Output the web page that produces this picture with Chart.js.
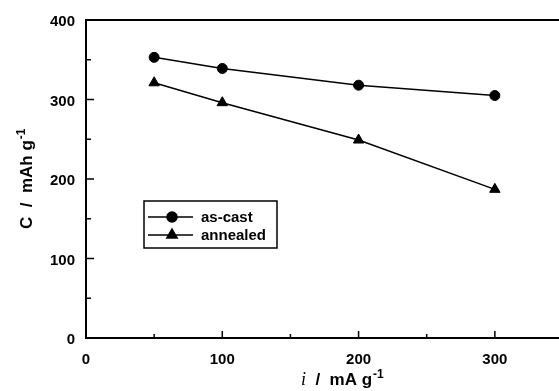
<!DOCTYPE html>
<html>
<head>
<meta charset="utf-8">
<style>
  html, body { margin: 0; padding: 0; overflow: hidden; background: #fff; }
  #capChart { display: block; }
</style>
</head>
<body>
<canvas id="capChart" width="570" height="391"></canvas>
<script src="https://cdn.jsdelivr.net/npm/chart.js"></script>
<script>
  // current density (mA/g) and discharge capacity (mAh/g)
  const currents = [50, 100, 200, 300];
  const asCast = [353, 339, 318, 305];
  const annealed = [321, 296, 249, 187];

  const xTicks = [0, 100, 200, 300];
  const xMinor = [50, 150, 250];
  const yTicks = [0, 100, 200, 300, 400];
  const yMinor = [50, 150, 250, 350];

  (() => {
    const canvas = document.getElementById('capChart');
    const ctx = canvas.getContext('2d');
    const SANS = '"Liberation Sans", Arial, sans-serif';
    const tickFont = { family: SANS, size: 15, weight: 'bold' };

    const toPoints = ys => currents.map((x, i) => ({ x, y: ys[i] }));

    // frame, inward ticks, axis titles and boxed legend
    const decor = {
      id: 'decor',
      afterDraw(chart) {
        const c = chart.ctx;
        const { left, right, top, bottom } = chart.chartArea;
        const xs = chart.scales.x, ys = chart.scales.y;
        c.save();
        c.strokeStyle = '#000';
        c.fillStyle = '#000';

        // top edge of the frame
        c.lineWidth = 2;
        c.beginPath();
        c.moveTo(left - 1, top);
        c.lineTo(right, top);
        c.stroke();

        // ticks pointing into the plot
        c.lineWidth = 1.5;
        const xTick = (v, len) => {
          const px = xs.getPixelForValue(v);
          c.beginPath(); c.moveTo(px, bottom); c.lineTo(px, bottom - len); c.stroke();
        };
        const yTick = (v, len) => {
          const py = ys.getPixelForValue(v);
          c.beginPath(); c.moveTo(left, py); c.lineTo(left + len, py); c.stroke();
        };
        xTicks.filter(v => v > 0).forEach(v => xTick(v, 7));
        xMinor.forEach(v => xTick(v, 4));
        yTicks.filter(v => v > 0 && v < 400).forEach(v => yTick(v, 8));
        yMinor.forEach(v => yTick(v, 5));

        // y title: C / mAh g-1
        c.save();
        c.translate(32, 229);
        c.rotate(-Math.PI / 2);
        c.textAlign = 'left';
        c.textBaseline = 'alphabetic';
        c.font = 'bold 17px ' + SANS;
        const yt = 'C  /  mAh g';
        c.fillText(yt, 0, 0);
        const yw = c.measureText(yt).width;
        c.font = 'bold 12px ' + SANS;
        c.fillText('-1', yw + 1, -7);
        c.restore();

        // x title: i / mA g-1
        c.textAlign = 'left';
        c.textBaseline = 'alphabetic';
        let tx = 301;
        const ty = 385;
        c.font = 'italic 18px "Liberation Serif", "Times New Roman", serif';
        c.fillText('i', tx, ty);
        tx += c.measureText('i').width;
        c.font = 'bold 17px ' + SANS;
        const xt = '  /  mA g';
        c.fillText(xt, tx, ty);
        tx += c.measureText(xt).width;
        c.font = 'bold 12px ' + SANS;
        c.fillText('-1', tx + 1, ty - 7);

        // legend box
        c.lineWidth = 1.5;
        c.strokeRect(144, 201, 133, 47);
        chart.data.datasets.forEach((ds, i) => {
          const ry = 217 + i * 18;
          c.lineWidth = 1.5;
          c.beginPath(); c.moveTo(148, ry); c.lineTo(193, ry); c.stroke();
          Chart.helpers.drawPoint(c, {
            pointStyle: ds.pointStyle, radius: ds.pointRadius, rotation: 0, borderWidth: 1
          }, 172, ry);
          c.font = 'bold 15px ' + SANS;
          c.textBaseline = 'middle';
          c.fillText(ds.label, 201, ry + 1);
        });
        c.restore();
      }
    };

    new Chart(ctx, {
      type: 'line',
      data: {
        datasets: [{
          label: 'as-cast',
          data: toPoints(asCast),
          borderColor: '#000',
          backgroundColor: '#000',
          borderWidth: 1.5,
          pointStyle: 'circle',
          pointRadius: 5,
          pointBorderWidth: 1
        }, {
          label: 'annealed',
          data: toPoints(annealed),
          borderColor: '#000',
          backgroundColor: '#000',
          borderWidth: 1.5,
          pointStyle: 'triangle',
          pointRadius: 6,
          pointBorderWidth: 1
        }]
      },
      options: {
        responsive: false,
        animation: false,
        devicePixelRatio: 1,
        layout: { padding: { top: 18, right: 3, left: 0, bottom: 0 } },
        plugins: {
          legend: { display: false },
          tooltip: { enabled: false }
        },
        scales: {
          x: {
            type: 'linear',
            min: 0,
            max: 350,
            afterFit: s => { s.height = 53 },
            afterBuildTicks: s => { s.ticks = xTicks.map(value => ({ value })) },
            grid: { display: false, drawTicks: false },
            border: { display: true, color: '#000', width: 2 },
            ticks: { color: '#000', font: tickFont, padding: 13, maxRotation: 0 }
          },
          y: {
            min: 0,
            max: 400,
            afterFit: s => { s.width = 86 },
            afterBuildTicks: s => { s.ticks = yTicks.map(value => ({ value })) },
            grid: { display: false, drawTicks: false },
            border: { display: true, color: '#000', width: 2 },
            ticks: { color: '#000', font: tickFont, padding: 11, labelOffset: 2 }
          }
        }
      },
      plugins: [decor]
    });
  })();
</script>
</body>
</html>
